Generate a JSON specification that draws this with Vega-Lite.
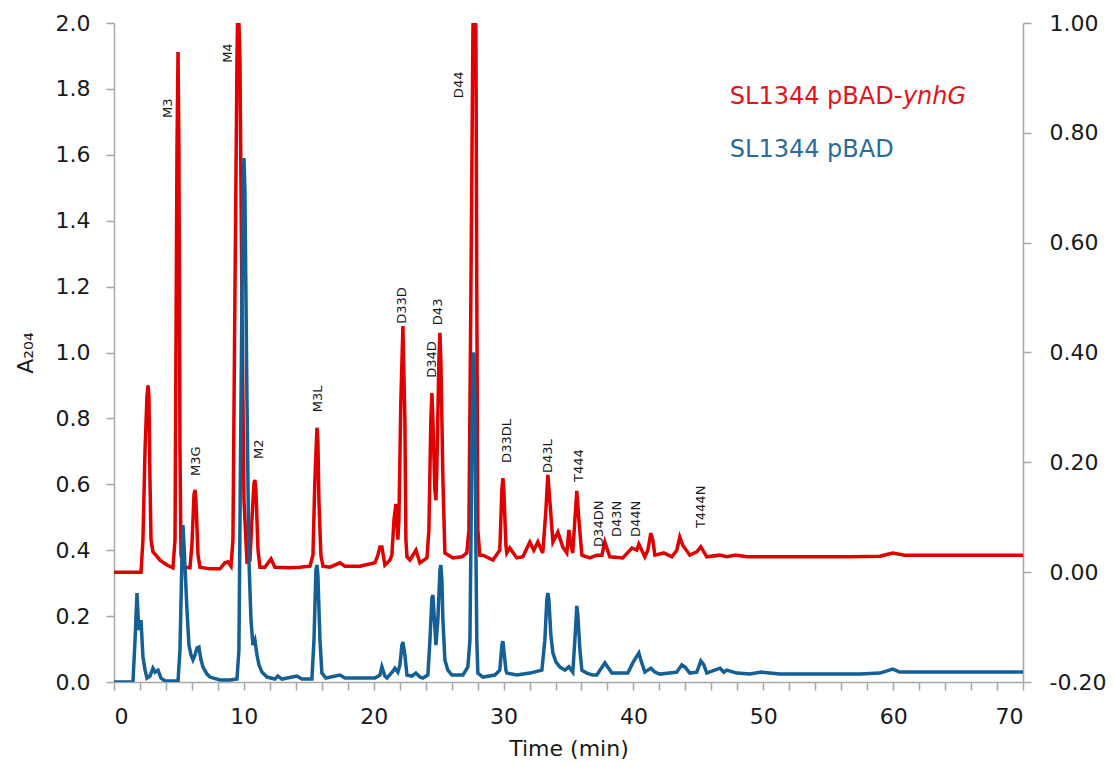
{
  "$schema": "https://vega.github.io/schema/vega-lite/v6.json",
  "width": 909,
  "height": 659,
  "autosize": {"type": "none"},
  "padding": {"left": 114, "top": 23, "right": 91, "bottom": 85},
  "background": "white",
  "config": {
    "view": {"stroke": null},
    "axis": {
      "grid": false,
      "domainColor": "#a6a6a6",
      "domainWidth": 1.5,
      "tickColor": "#a6a6a6",
      "tickWidth": 1.5,
      "tickSize": 8,
      "labelFont": "DejaVu Sans",
      "labelFontSize": 22,
      "labelColor": "#1a1a1a",
      "titleFont": "DejaVu Sans",
      "titleFontSize": 22,
      "titleFontWeight": "normal",
      "titleColor": "#1a1a1a"
    }
  },
  "datasets": {
    "red": [
      {"t": 0, "v": 0.000}, {"t": 2.08, "v": 0.000}, {"t": 2.23, "v": 0.059}, {"t": 2.39, "v": 0.222}, {"t": 2.54, "v": 0.320},
      {"t": 2.62, "v": 0.340}, {"t": 2.69, "v": 0.320}, {"t": 2.77, "v": 0.168}, {"t": 2.85, "v": 0.059}, {"t": 3.00, "v": 0.037},
      {"t": 3.23, "v": 0.031}, {"t": 3.54, "v": 0.022}, {"t": 4.08, "v": 0.013}, {"t": 4.54, "v": 0.008}, {"t": 4.70, "v": 0.059},
      {"t": 4.77, "v": 0.405}, {"t": 4.85, "v": 0.769}, {"t": 4.93, "v": 0.947}, {"t": 5.00, "v": 0.769}, {"t": 5.08, "v": 0.222},
      {"t": 5.16, "v": 0.031}, {"t": 5.39, "v": 0.009}, {"t": 5.85, "v": 0.008}, {"t": 6.00, "v": 0.049}, {"t": 6.16, "v": 0.141},
      {"t": 6.24, "v": 0.150}, {"t": 6.31, "v": 0.131}, {"t": 6.47, "v": 0.031}, {"t": 6.62, "v": 0.009}, {"t": 7.39, "v": 0.006},
      {"t": 8.16, "v": 0.006}, {"t": 8.54, "v": 0.017}, {"t": 8.78, "v": 0.019}, {"t": 9.01, "v": 0.011}, {"t": 9.16, "v": 0.059},
      {"t": 9.31, "v": 0.496}, {"t": 9.47, "v": 0.933}, {"t": 9.55, "v": 1.06}, {"t": 9.70, "v": 0.933}, {"t": 9.85, "v": 0.496},
      {"t": 10.01, "v": 0.131}, {"t": 10.24, "v": 0.019}, {"t": 10.47, "v": 0.022}, {"t": 10.62, "v": 0.095}, {"t": 10.78, "v": 0.162},
      {"t": 10.85, "v": 0.168}, {"t": 10.93, "v": 0.150}, {"t": 11.09, "v": 0.040}, {"t": 11.24, "v": 0.009}, {"t": 11.62, "v": 0.009},
      {"t": 12.09, "v": 0.024}, {"t": 12.39, "v": 0.009}, {"t": 13.55, "v": 0.008}, {"t": 14.32, "v": 0.009}, {"t": 15.09, "v": 0.011},
      {"t": 15.32, "v": 0.031}, {"t": 15.47, "v": 0.168}, {"t": 15.63, "v": 0.263}, {"t": 15.70, "v": 0.241}, {"t": 15.78, "v": 0.131},
      {"t": 15.93, "v": 0.031}, {"t": 16.09, "v": 0.011}, {"t": 16.63, "v": 0.009}, {"t": 17.40, "v": 0.017}, {"t": 17.78, "v": 0.011},
      {"t": 18.94, "v": 0.011}, {"t": 20.09, "v": 0.017}, {"t": 20.32, "v": 0.031}, {"t": 20.48, "v": 0.046}, {"t": 20.63, "v": 0.046},
      {"t": 20.86, "v": 0.013}, {"t": 21.25, "v": 0.022}, {"t": 21.40, "v": 0.031}, {"t": 21.56, "v": 0.095}, {"t": 21.71, "v": 0.124},
      {"t": 21.86, "v": 0.059}, {"t": 21.94, "v": 0.095}, {"t": 22.09, "v": 0.313}, {"t": 22.25, "v": 0.448}, {"t": 22.40, "v": 0.277},
      {"t": 22.48, "v": 0.059}, {"t": 22.56, "v": 0.028}, {"t": 22.79, "v": 0.022}, {"t": 23.25, "v": 0.040}, {"t": 23.56, "v": 0.017},
      {"t": 24.10, "v": 0.026}, {"t": 24.25, "v": 0.077}, {"t": 24.40, "v": 0.277}, {"t": 24.48, "v": 0.326}, {"t": 24.56, "v": 0.277},
      {"t": 24.71, "v": 0.150}, {"t": 24.79, "v": 0.131}, {"t": 24.86, "v": 0.186}, {"t": 25.02, "v": 0.386}, {"t": 25.10, "v": 0.436},
      {"t": 25.17, "v": 0.386}, {"t": 25.33, "v": 0.168}, {"t": 25.48, "v": 0.035}, {"t": 26.10, "v": 0.026}, {"t": 26.79, "v": 0.028},
      {"t": 27.17, "v": 0.035}, {"t": 27.33, "v": 0.077}, {"t": 27.48, "v": 0.496}, {"t": 27.64, "v": 0.987}, {"t": 27.71, "v": 1.06},
      {"t": 27.87, "v": 0.987}, {"t": 27.94, "v": 0.496}, {"t": 28.02, "v": 0.077}, {"t": 28.17, "v": 0.031}, {"t": 28.41, "v": 0.031},
      {"t": 29.18, "v": 0.022}, {"t": 29.71, "v": 0.040}, {"t": 29.87, "v": 0.150}, {"t": 29.95, "v": 0.171}, {"t": 30.02, "v": 0.150},
      {"t": 30.18, "v": 0.049}, {"t": 30.25, "v": 0.035}, {"t": 30.48, "v": 0.044}, {"t": 31.02, "v": 0.026}, {"t": 31.49, "v": 0.028},
      {"t": 32.02, "v": 0.055}, {"t": 32.33, "v": 0.040}, {"t": 32.64, "v": 0.055}, {"t": 33.02, "v": 0.035}, {"t": 33.26, "v": 0.113},
      {"t": 33.41, "v": 0.177}, {"t": 33.56, "v": 0.131}, {"t": 33.80, "v": 0.055}, {"t": 34.18, "v": 0.073}, {"t": 34.56, "v": 0.046},
      {"t": 34.87, "v": 0.035}, {"t": 35.03, "v": 0.077}, {"t": 35.18, "v": 0.049}, {"t": 35.33, "v": 0.035}, {"t": 35.49, "v": 0.095},
      {"t": 35.64, "v": 0.148}, {"t": 35.80, "v": 0.095}, {"t": 36.03, "v": 0.031}, {"t": 36.64, "v": 0.026}, {"t": 37.18, "v": 0.031},
      {"t": 37.57, "v": 0.031}, {"t": 37.80, "v": 0.055}, {"t": 38.18, "v": 0.028}, {"t": 39.18, "v": 0.026}, {"t": 39.88, "v": 0.044},
      {"t": 40.26, "v": 0.040}, {"t": 40.42, "v": 0.051}, {"t": 40.88, "v": 0.028}, {"t": 41.11, "v": 0.040}, {"t": 41.34, "v": 0.071},
      {"t": 41.49, "v": 0.059}, {"t": 41.65, "v": 0.031}, {"t": 42.34, "v": 0.035}, {"t": 42.96, "v": 0.028}, {"t": 43.34, "v": 0.040},
      {"t": 43.57, "v": 0.064}, {"t": 43.80, "v": 0.049}, {"t": 44.34, "v": 0.031}, {"t": 44.88, "v": 0.037}, {"t": 45.19, "v": 0.046},
      {"t": 45.65, "v": 0.028}, {"t": 46.66, "v": 0.031}, {"t": 47.19, "v": 0.028}, {"t": 47.88, "v": 0.031}, {"t": 48.73, "v": 0.028},
      {"t": 49.88, "v": 0.028}, {"t": 52.81, "v": 0.028}, {"t": 56.66, "v": 0.028}, {"t": 58.97, "v": 0.029}, {"t": 59.97, "v": 0.035},
      {"t": 60.89, "v": 0.031}, {"t": 64.36, "v": 0.031}, {"t": 70, "v": 0.031}
    ],
    "blue": [
      {"t": 0, "v": 0.000}, {"t": 1.46, "v": 0.000}, {"t": 1.62, "v": 0.127}, {"t": 1.77, "v": 0.270}, {"t": 1.85, "v": 0.203},
      {"t": 1.92, "v": 0.158}, {"t": 2.08, "v": 0.188}, {"t": 2.16, "v": 0.127}, {"t": 2.23, "v": 0.076}, {"t": 2.39, "v": 0.036},
      {"t": 2.54, "v": 0.012}, {"t": 2.77, "v": 0.018}, {"t": 3.00, "v": 0.042}, {"t": 3.16, "v": 0.030}, {"t": 3.39, "v": 0.036},
      {"t": 3.62, "v": 0.012}, {"t": 3.93, "v": 0.003}, {"t": 4.93, "v": 0.003}, {"t": 5.08, "v": 0.097}, {"t": 5.23, "v": 0.370},
      {"t": 5.31, "v": 0.476}, {"t": 5.39, "v": 0.416}, {"t": 5.47, "v": 0.349}, {"t": 5.62, "v": 0.219}, {"t": 5.77, "v": 0.112},
      {"t": 5.93, "v": 0.082}, {"t": 6.08, "v": 0.067}, {"t": 6.24, "v": 0.082}, {"t": 6.39, "v": 0.103}, {"t": 6.54, "v": 0.106},
      {"t": 6.70, "v": 0.067}, {"t": 6.85, "v": 0.046}, {"t": 7.16, "v": 0.024}, {"t": 7.39, "v": 0.015}, {"t": 8.16, "v": 0.006},
      {"t": 8.93, "v": 0.006}, {"t": 9.47, "v": 0.009}, {"t": 9.62, "v": 0.097}, {"t": 9.78, "v": 0.856}, {"t": 9.93, "v": 1.493},
      {"t": 10.01, "v": 1.590}, {"t": 10.08, "v": 1.493}, {"t": 10.24, "v": 0.856}, {"t": 10.39, "v": 0.370}, {"t": 10.55, "v": 0.188},
      {"t": 10.70, "v": 0.112}, {"t": 10.85, "v": 0.127}, {"t": 11.01, "v": 0.082}, {"t": 11.16, "v": 0.052}, {"t": 11.39, "v": 0.030},
      {"t": 11.78, "v": 0.015}, {"t": 12.39, "v": 0.009}, {"t": 12.62, "v": 0.018}, {"t": 12.93, "v": 0.009}, {"t": 14.09, "v": 0.018},
      {"t": 14.47, "v": 0.009}, {"t": 15.24, "v": 0.009}, {"t": 15.40, "v": 0.127}, {"t": 15.55, "v": 0.340}, {"t": 15.63, "v": 0.355},
      {"t": 15.70, "v": 0.325}, {"t": 15.86, "v": 0.127}, {"t": 16.01, "v": 0.027}, {"t": 16.32, "v": 0.012}, {"t": 17.40, "v": 0.021},
      {"t": 17.78, "v": 0.012}, {"t": 20.09, "v": 0.012}, {"t": 20.48, "v": 0.021}, {"t": 20.63, "v": 0.046}, {"t": 20.86, "v": 0.018},
      {"t": 21.02, "v": 0.012}, {"t": 21.48, "v": 0.033}, {"t": 21.63, "v": 0.042}, {"t": 21.86, "v": 0.030}, {"t": 22.02, "v": 0.052},
      {"t": 22.17, "v": 0.112}, {"t": 22.25, "v": 0.121}, {"t": 22.40, "v": 0.082}, {"t": 22.56, "v": 0.021}, {"t": 22.94, "v": 0.018},
      {"t": 23.25, "v": 0.027}, {"t": 23.56, "v": 0.015}, {"t": 23.79, "v": 0.012}, {"t": 24.17, "v": 0.021}, {"t": 24.33, "v": 0.127},
      {"t": 24.48, "v": 0.255}, {"t": 24.56, "v": 0.264}, {"t": 24.63, "v": 0.219}, {"t": 24.79, "v": 0.112}, {"t": 24.94, "v": 0.188},
      {"t": 25.10, "v": 0.340}, {"t": 25.17, "v": 0.355}, {"t": 25.25, "v": 0.310}, {"t": 25.33, "v": 0.188}, {"t": 25.48, "v": 0.067},
      {"t": 25.71, "v": 0.036}, {"t": 26.02, "v": 0.021}, {"t": 26.87, "v": 0.021}, {"t": 27.25, "v": 0.046}, {"t": 27.41, "v": 0.127},
      {"t": 27.56, "v": 0.704}, {"t": 27.64, "v": 0.977}, {"t": 27.71, "v": 1.000}, {"t": 27.79, "v": 0.856}, {"t": 27.87, "v": 0.401},
      {"t": 27.94, "v": 0.127}, {"t": 28.02, "v": 0.027}, {"t": 28.41, "v": 0.015}, {"t": 29.33, "v": 0.021}, {"t": 29.71, "v": 0.036},
      {"t": 29.87, "v": 0.112}, {"t": 29.95, "v": 0.124}, {"t": 30.02, "v": 0.097}, {"t": 30.18, "v": 0.036}, {"t": 30.25, "v": 0.027},
      {"t": 31.02, "v": 0.021}, {"t": 32.02, "v": 0.027}, {"t": 32.95, "v": 0.036}, {"t": 33.18, "v": 0.127}, {"t": 33.33, "v": 0.249},
      {"t": 33.41, "v": 0.270}, {"t": 33.49, "v": 0.249}, {"t": 33.64, "v": 0.143}, {"t": 33.80, "v": 0.088}, {"t": 34.03, "v": 0.061},
      {"t": 34.33, "v": 0.046}, {"t": 34.72, "v": 0.036}, {"t": 35.03, "v": 0.046}, {"t": 35.33, "v": 0.030}, {"t": 35.49, "v": 0.127},
      {"t": 35.64, "v": 0.231}, {"t": 35.72, "v": 0.203}, {"t": 35.88, "v": 0.097}, {"t": 36.03, "v": 0.036}, {"t": 36.41, "v": 0.027},
      {"t": 36.87, "v": 0.021}, {"t": 37.18, "v": 0.021}, {"t": 37.80, "v": 0.058}, {"t": 38.34, "v": 0.027}, {"t": 39.57, "v": 0.027},
      {"t": 39.95, "v": 0.058}, {"t": 40.18, "v": 0.073}, {"t": 40.42, "v": 0.088}, {"t": 40.57, "v": 0.067}, {"t": 40.88, "v": 0.030},
      {"t": 41.34, "v": 0.042}, {"t": 41.65, "v": 0.030}, {"t": 42.03, "v": 0.024}, {"t": 43.34, "v": 0.030}, {"t": 43.72, "v": 0.052},
      {"t": 43.96, "v": 0.046}, {"t": 44.34, "v": 0.027}, {"t": 44.88, "v": 0.030}, {"t": 45.19, "v": 0.064}, {"t": 45.42, "v": 0.052},
      {"t": 45.65, "v": 0.027}, {"t": 46.66, "v": 0.042}, {"t": 46.97, "v": 0.030}, {"t": 47.19, "v": 0.036}, {"t": 47.96, "v": 0.027},
      {"t": 48.96, "v": 0.024}, {"t": 49.88, "v": 0.030}, {"t": 51.27, "v": 0.024}, {"t": 54.35, "v": 0.024}, {"t": 57.43, "v": 0.024},
      {"t": 58.97, "v": 0.027}, {"t": 59.97, "v": 0.039}, {"t": 60.51, "v": 0.030}, {"t": 63.5, "v": 0.030}, {"t": 65.13, "v": 0.030},
      {"t": 70, "v": 0.030}
    ],
    "labels": [
      {"t": 4.16, "v": 1.712, "label": "M3"},
      {"t": 8.78, "v": 1.879, "label": "M4"},
      {"t": 6.32, "v": 0.625, "label": "M3G"},
      {"t": 11.2, "v": 0.677, "label": "M2"},
      {"t": 15.72, "v": 0.819, "label": "M3L"},
      {"t": 22.17, "v": 1.087, "label": "D33D"},
      {"t": 24.48, "v": 0.923, "label": "D34D"},
      {"t": 24.94, "v": 1.083, "label": "D43"},
      {"t": 26.56, "v": 1.772, "label": "D44"},
      {"t": 30.25, "v": 0.665, "label": "D33DL"},
      {"t": 33.41, "v": 0.634, "label": "D43L"},
      {"t": 35.8, "v": 0.607, "label": "T444"},
      {"t": 37.34, "v": 0.41, "label": "D34DN"},
      {"t": 38.72, "v": 0.44, "label": "D43N"},
      {"t": 40.18, "v": 0.44, "label": "D44N"},
      {"t": 45.19, "v": 0.467, "label": "T444N"}
    ],
    "legend": [
      {"t": 47.42, "v": 1.775, "label": "SL1344 pBAD-", "part": "red"},
      {"t": 60.75, "v": 1.775, "label": "ynhG", "part": "redItalic"},
      {"t": 47.42, "v": 1.615, "label": "SL1344 pBAD", "part": "blue"}
    ]
  },
  "encoding": {
    "x": {
      "field": "t",
      "type": "quantitative",
      "scale": {"domain": [0, 70], "nice": false, "zero": false},
      "axis": {
        "values": [0, 2, 4, 6, 8, 10, 12, 14, 16, 18, 20, 22, 24, 26, 28, 30, 32, 34, 36, 38, 40, 42, 44, 46, 48, 50, 52, 54, 56, 58, 60, 62, 64, 66, 68, 70],
        "labelExpr": "datum.value % 10 === 0 ? datum.label : ''",
        "labelPadding": 16,
        "title": "Time (min)",
        "titleY": 66,
        "titleBaseline": "middle"
      }
    }
  },
  "layer": [
    {
      "data": {"name": "red"},
      "mark": {"type": "line", "color": "#e00000", "strokeWidth": 3.5, "clip": true},
      "encoding": {
        "y": {
          "field": "v",
          "type": "quantitative",
          "scale": {"domain": [-0.2, 1.0], "nice": false, "zero": false},
          "axis": {
            "orient": "right",
            "values": [-0.2, 0, 0.2, 0.4, 0.6, 0.8, 1.0],
            "labelExpr": "replace(format(datum.value, '.2f'), '\u2212', '-')",
            "labelPadding": 18,
            "title": null
          }
        }
      }
    },
    {
      "encoding": {
        "y": {
          "field": "v",
          "type": "quantitative",
          "scale": {"domain": [0, 2], "nice": false, "zero": false},
          "axis": {
            "orient": "left",
            "values": [0, 0.2, 0.4, 0.6, 0.8, 1.0, 1.2, 1.4, 1.6, 1.8, 2.0],
            "format": ".1f",
            "labelPadding": 16,
            "title": "A₂₀₄",
            "titleX": -89,
            "titleAngle": 270,
            "titleAlign": "center",
            "titleBaseline": "middle"
          }
        }
      },
      "layer": [
        {
          "data": {"name": "blue"},
          "mark": {"type": "line", "color": "#135f96", "strokeWidth": 3.5, "clip": true}
        },
        {
          "data": {"name": "labels"},
          "mark": {"type": "text", "angle": 270, "align": "left", "baseline": "middle", "font": "DejaVu Sans", "fontSize": 13, "color": "#1a1a1a"},
          "encoding": {"text": {"field": "label"}}
        },
        {
          "data": {"name": "legend"},
          "transform": [{"filter": "datum.part === 'red'"}],
          "mark": {"type": "text", "align": "left", "baseline": "middle", "font": "DejaVu Sans", "fontSize": 24, "color": "#e8101a"},
          "encoding": {"text": {"field": "label"}}
        },
        {
          "data": {"name": "legend"},
          "transform": [{"filter": "datum.part === 'redItalic'"}],
          "mark": {"type": "text", "align": "left", "baseline": "middle", "font": "DejaVu Sans", "fontSize": 24, "fontStyle": "italic", "color": "#e8101a"},
          "encoding": {"text": {"field": "label"}}
        },
        {
          "data": {"name": "legend"},
          "transform": [{"filter": "datum.part === 'blue'"}],
          "mark": {"type": "text", "align": "left", "baseline": "middle", "font": "DejaVu Sans", "fontSize": 24, "color": "#2b6a9c"},
          "encoding": {"text": {"field": "label"}}
        }
      ]
    }
  ],
  "resolve": {"scale": {"y": "independent"}}
}
